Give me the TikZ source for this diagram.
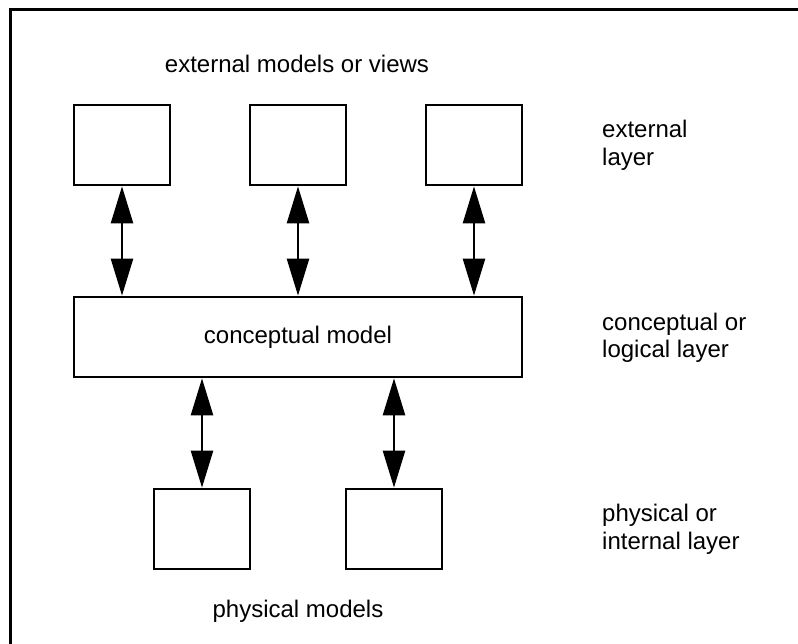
\documentclass[tikz,border=0pt]{standalone}
\usepackage{fontspec}
\setmainfont{Liberation Sans}
\usetikzlibrary{arrows.meta}
\begin{document}
\begin{tikzpicture}[x=1pt,y=-1pt,
  every node/.style={font=\fontsize{24}{28}\selectfont},
  modelbox/.style={draw,line width=2.7pt,inner sep=0pt,minimum width=96pt,minimum height=80pt},
  biarrow/.style={line width=2.5pt,{Triangle[length=37pt,width=22pt]}-{Triangle[length=37pt,width=22pt]}},
  layerlabel/.style={align=left,anchor=base west,inner sep=0pt}]
  \useasboundingbox (0,0) rectangle (798,644);
  % open frame: only the left and top edges lie inside the page
  \draw[line width=3pt] (10,660) -- (10,10) -- (810,10);

  % external models
  \node[modelbox] (e1) at (122,145) {};
  \node[modelbox] (e2) at (298,145) {};
  \node[modelbox] (e3) at (474,145) {};
  \node[inner sep=0pt,anchor=base] (etitle) at (297,72.5) {external models or views};

  % conceptual model
  \node[draw,line width=2.7pt,inner sep=0pt,minimum width=448pt,minimum height=80pt] (cm) at (298,337) {conceptual model};

  % physical models
  \node[modelbox] (p1) at (202,529) {};
  \node[modelbox] (p2) at (394,529) {};
  \node[inner sep=0pt,anchor=base] (ptitle) at (298,617) {physical models};

  % connectors
  \draw[biarrow] (e1.south) -- (e1.south |- cm.north);
  \draw[biarrow] (e2.south) -- (e2.south |- cm.north);
  \draw[biarrow] (e3.south) -- (e3.south |- cm.north);
  \draw[biarrow] (p1.north |- cm.south) -- (p1.north);
  \draw[biarrow] (p2.north |- cm.south) -- (p2.north);

  % layer labels (base anchor sits on the last line)
  \node[layerlabel] (lext) at (602,165.5) {external\\layer};
  \node[layerlabel] (lcon) at (602,358) {conceptual or\\logical layer};
  \node[layerlabel] (lphy) at (602,549.5) {physical or\\internal layer};
\end{tikzpicture}
\end{document}
